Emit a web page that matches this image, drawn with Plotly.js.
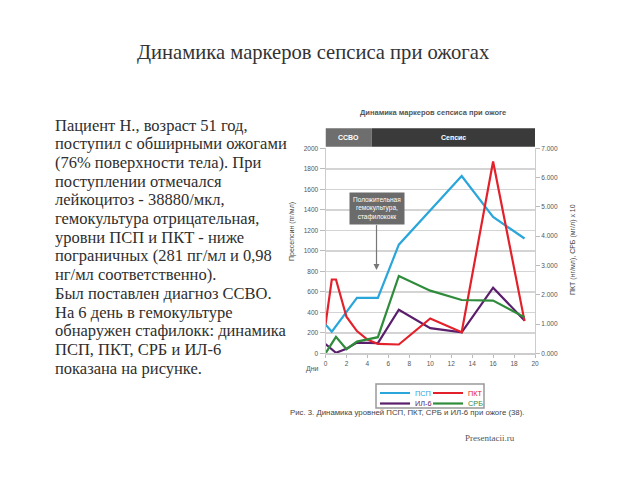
<!DOCTYPE html>
<html>
<head>
<meta charset="utf-8">
<script src="https://cdn.plot.ly/plotly-3.0.1.min.js"></script>
<style>html,body{margin:0;padding:0;background:#fff;}#chart{width:640px;height:480px;}</style>
</head>
<body>
<div id="chart"></div>
<script>
// ---- data ----
const seriesNames = ['ПСП', 'ПКТ', 'ИЛ-6', 'СРБ'];
const pspDays = [0, 0.6, 3, 5, 7, 10, 13, 16, 19];
const pspValues = [281, 210, 540, 540, 1060, 1400, 1730, 1330, 1120];
const pktDays = [0, 0.6, 1, 2, 3, 4, 5, 7, 10, 13, 16, 19];
const pktValues = [0.98, 2.52, 2.52, 1.25, 0.76, 0.47, 0.32, 0.3, 1.19, 0.72, 6.55, 1.1];
const il6Days = [0, 1, 2, 3, 5, 7, 10, 13, 16, 19];
const il6Values = [90, 5, 45, 105, 100, 425, 245, 205, 640, 320];
const crbDays = [0, 1, 2, 3, 5, 7, 10, 13, 16, 19];
const crbValues = [0.0, 0.56, 0.14, 0.4, 0.55, 2.64, 2.14, 1.82, 1.8, 1.23];
const phaseLabels = ['ССВО', 'Сепсис'];
const phaseBounds = [0, 4.4, 20.1];

const slideTitle = 'Динамика маркеров сепсиса при ожогах';
const chartTitle = 'Динамика маркеров сепсиса при ожоге';
const leftAxisTitle = 'Пресепсин (пг/мл)';
const rightAxisTitle = 'ПКТ (нг/мл), СРБ (мг/л) x 10';
const xAxisLabel = 'Дни';
const calloutText = 'Положительная<br>гемокультура,<br>стафилококк';
const calloutDay = 4.87, calloutValue = 813;
const caption = 'Рис. 3. Динамика уровней ПСП, ПКТ, СРБ и ИЛ-6 при ожоге (38).';
const watermark = 'Presentacii.ru';
const bodyLines = [
  'Пациент Н., возраст 51 год,',
  'поступил с обширными ожогами',
  '(76% поверхности тела). При',
  'поступлении отмечался',
  'лейкоцитоз - 38880/мкл,',
  'гемокультура отрицательная,',
  'уровни ПСП и ПКТ - ниже',
  'пограничных (281 пг/мл и 0,98',
  'нг/мл соответственно).',
  'Был поставлен диагноз ССВО.',
  'На 6 день в гемокультуре',
  'обнаружен стафилокк: динамика',
  'ПСП, ПКТ, СРБ и ИЛ-6',
  'показана на рисунке.'
];

// ---- styling ----
const colors = ['#2aa6da', '#e3212b', '#5a1e6c', '#2f8c3b'];
const W = 640, H = 480;
const px = x => x / W;
const py = y => 1 - y / H;
const sans = 'Liberation Sans Narrow, Liberation Sans, Arial, sans-serif';
const serif = 'Liberation Serif, Times New Roman, serif';
const legendIds = ['legend', 'legend3', 'legend2', 'legend4'];

function lineTrace(i, xs, ys, axis) {
  return {
    type: 'scatter', mode: 'lines', x: xs, y: ys, yaxis: axis,
    name: '<span style="color:' + colors[i] + '">' + seriesNames[i] + '</span>',
    line: {color: colors[i], width: 2.2},
    legend: legendIds[i], hoverinfo: 'skip'
  };
}

const data = [
  lineTrace(0, pspDays, pspValues, 'y'),
  lineTrace(1, pktDays, pktValues, 'y2'),
  lineTrace(2, il6Days, il6Values, 'y'),
  lineTrace(3, crbDays, crbValues, 'y2')
];

const annotations = [];
annotations.push({xref: 'paper', yref: 'paper', x: px(313), y: py(53), text: slideTitle,
  showarrow: false, xanchor: 'center', yanchor: 'middle',
  font: {family: serif, size: 20.6, color: '#333'}});
bodyLines.forEach((t, k) => {
  annotations.push({xref: 'paper', yref: 'paper', x: px(53), y: py(125 + k * 18.7), text: t,
    showarrow: false, xanchor: 'left', yanchor: 'middle',
    font: {family: serif, size: 16.5, color: '#2e2e2e'}});
});
annotations.push({xref: 'paper', yref: 'paper', x: px(433), y: py(113), text: '<b>' + chartTitle + '</b>',
  showarrow: false, xanchor: 'center', yanchor: 'middle',
  font: {family: sans, size: 7.5, color: '#555'}});
phaseLabels.forEach((t, k) => {
  annotations.push({xref: 'x', yref: 'paper', x: (phaseBounds[k] + phaseBounds[k + 1]) / 2, y: py(137.5),
    text: '<b>' + t + '</b>', showarrow: false, xanchor: 'center', yanchor: 'middle',
    font: {family: sans, size: 7, color: '#fff'}});
});
annotations.push({xref: 'x', yref: 'y', x: calloutDay, y: calloutValue, text: calloutText,
  showarrow: true, ax: 0, ay: -61, arrowhead: 2, arrowsize: 1, arrowwidth: 1.2, arrowcolor: '#777',
  bgcolor: '#6b6b6b', borderpad: 3, font: {family: sans, size: 6.5, color: '#fff'}});
annotations.push({xref: 'paper', yref: 'paper', x: px(292), y: py(232), text: leftAxisTitle,
  showarrow: false, textangle: -90, xanchor: 'center', yanchor: 'middle',
  font: {family: sans, size: 7, color: '#444'}});
annotations.push({xref: 'paper', yref: 'paper', x: px(573), y: py(250), text: rightAxisTitle,
  showarrow: false, textangle: -90, xanchor: 'center', yanchor: 'middle',
  font: {family: sans, size: 7, color: '#444'}});
annotations.push({xref: 'paper', yref: 'paper', x: px(312), y: py(369), text: xAxisLabel,
  showarrow: false, xanchor: 'center', yanchor: 'middle',
  font: {family: sans, size: 7, color: '#555'}});
annotations.push({xref: 'paper', yref: 'paper', x: px(288), y: py(412), text: caption,
  showarrow: false, xanchor: 'left', yanchor: 'middle',
  font: {family: sans, size: 7.8, color: '#444'}});
annotations.push({xref: 'paper', yref: 'paper', x: px(490), y: py(438), text: watermark,
  showarrow: false, xanchor: 'center', yanchor: 'middle',
  font: {family: serif, size: 9, color: '#555'}});

const shapes = [
  {type: 'rect', xref: 'x', yref: 'paper', x0: phaseBounds[0], x1: phaseBounds[1], y0: py(146.7), y1: py(128.3),
   fillcolor: '#6e6e6e', line: {width: 0}, layer: 'above'},
  {type: 'rect', xref: 'x', yref: 'paper', x0: phaseBounds[1], x1: phaseBounds[2], y0: py(146.7), y1: py(128.3),
   fillcolor: '#3a3a3a', line: {width: 0}, layer: 'above'},
  {type: 'rect', xref: 'paper', yref: 'paper', x0: px(376), x1: px(484), y0: py(408), y1: py(384),
   fillcolor: 'rgba(0,0,0,0)', line: {color: '#999', width: 1.5}}
];

const tickFont = {family: sans, size: 6.5, color: '#555'};
function legendAt(x, y) {
  return {x: px(x), y: py(y), xanchor: 'left', yanchor: 'top', bgcolor: 'rgba(0,0,0,0)',
    borderwidth: 0, font: {family: sans, size: 7.3}, itemwidth: 30, tracegroupgap: 0};
}

const layout = {
  width: W, height: H,
  margin: {l: 0, r: 0, t: 0, b: 0},
  paper_bgcolor: '#fff', plot_bgcolor: '#fff',
  showlegend: true,
  legend: legendAt(375, 378.5),
  legend3: legendAt(428, 378.5),
  legend2: legendAt(375, 389),
  legend4: legendAt(428, 389),
  xaxis: {domain: [px(325.5), px(535)], range: [0, 20], tick0: 0, dtick: 2,
    showgrid: false, zeroline: false, showline: true, linecolor: '#ccc', linewidth: 1.5,
    ticks: 'outside', ticklen: 3, tickcolor: '#bbb', tickfont: tickFont, fixedrange: true},
  yaxis: {domain: [py(353.3), py(148.3)], range: [0, 2000], tick0: 0, dtick: 200,
    showgrid: true, gridcolor: '#d4d4d4', gridwidth: 1.5, zeroline: false,
    showline: true, linecolor: '#ccc', ticks: 'outside', ticklen: 5, tickcolor: '#bbb',
    tickfont: tickFont, fixedrange: true},
  yaxis2: {overlaying: 'y', side: 'right', anchor: 'x', range: [0, 7], tick0: 0, dtick: 1,
    tickformat: '.3f', showgrid: false, zeroline: false, showline: true, linecolor: '#ccc',
    ticks: 'outside', ticklen: 4, tickcolor: '#bbb', tickfont: tickFont, fixedrange: true},
  annotations: annotations,
  shapes: shapes
};

Plotly.newPlot('chart', data, layout, {staticPlot: true, displayModeBar: false});
</script>
</body>
</html>
